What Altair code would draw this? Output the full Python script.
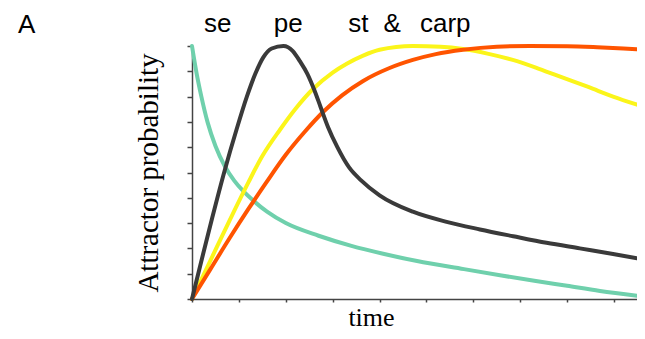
import altair as alt
import pandas as pd

# se (teal)
se_t = [0, 0.10, 0.20, 0.33, 0.50, 0.70, 0.90, 1.10, 1.30, 1.60, 2.00, 2.70, 3.40, 4.10, 4.80, 5.80, 6.60, 7.30, 8.00, 8.70, 9.49]
se_p = [1.0, 0.89, 0.80, 0.70, 0.605, 0.525, 0.468, 0.425, 0.39, 0.345, 0.30, 0.25, 0.21, 0.178, 0.15, 0.118, 0.093, 0.072, 0.052, 0.032, 0.013]

# pe (black)
pe_t = [0, 0.20, 0.43, 0.70, 0.95, 1.17, 1.35, 1.52, 1.70, 1.95, 2.15, 2.30, 2.46, 2.60, 2.74, 2.90, 3.10, 3.35, 3.60, 4.00, 4.71, 5.43, 6.14, 6.85, 7.56, 8.27, 8.98, 9.49]
pe_p = [0, 0.15, 0.32, 0.51, 0.67, 0.80, 0.89, 0.955, 0.99, 1.0, 0.98, 0.94, 0.89, 0.83, 0.76, 0.68, 0.60, 0.52, 0.47, 0.41, 0.345, 0.305, 0.275, 0.248, 0.222, 0.20, 0.178, 0.161]

# st (yellow)
st_t = [0, 0.40, 0.80, 1.20, 1.50, 1.88, 2.20, 2.58, 3.00, 3.30, 3.65, 4.00, 4.71, 5.30, 5.78, 6.30, 6.84, 7.40, 7.91, 8.45, 8.98, 9.49]
st_p = [0, 0.155, 0.31, 0.46, 0.565, 0.67, 0.75, 0.83, 0.895, 0.93, 0.962, 0.985, 1.0, 0.997, 0.988, 0.97, 0.945, 0.91, 0.875, 0.838, 0.80, 0.768]

# carp (orange)
carp_t = [0, 0.40, 0.80, 1.20, 1.60, 2.00, 2.40, 2.80, 3.20, 3.65, 4.20, 4.71, 5.20, 5.78, 6.50, 7.20, 8.00, 8.64, 9.20, 9.49]
carp_p = [0, 0.12, 0.24, 0.355, 0.465, 0.57, 0.66, 0.74, 0.805, 0.862, 0.912, 0.945, 0.968, 0.985, 0.997, 1.0, 0.999, 0.995, 0.99, 0.987]

series_names = ["se", "st", "carp", "pe"]
series_colors = ["#6fd0ac", "#fbf51a", "#ff5400", "#3a3a3a"]

label_text = ["se", "pe", "st", "&", "carp"]
label_t = [0.55, 2.05, 3.55, 4.27, 5.40]

rows = []
for name, ts, ps in [("se", se_t, se_p), ("st", st_t, st_p), ("carp", carp_t, carp_p), ("pe", pe_t, pe_p)]:
    for t, p in zip(ts, ps):
        rows.append({"series": name, "time": t, "p": p})
df = pd.DataFrame(rows)
labels = pd.DataFrame({"text": label_text, "time": label_t})

xscale = alt.Scale(domain=[0, 9.49], nice=False, zero=False)
yscale = alt.Scale(domain=[0, 1], nice=False)

x_axis = alt.Axis(values=list(range(0, 10)), labels=False, grid=False, tickSize=3,
                  tickColor="#444", tickWidth=1.5, domainColor="#444", domainWidth=1.5,
                  title="time", titleFont="Liberation Serif", titleFontSize=26,
                  titleFontWeight="normal", titleColor="#000", titleX=179, titleY=26,
                  titleBaseline="alphabetic", titleAlign="center", orient="bottom")

lines = alt.Chart(df).mark_line(strokeWidth=4, interpolate="monotone", strokeCap="round").encode(
    x=alt.X("time:Q", scale=xscale, axis=x_axis),
    y=alt.Y("p:Q", scale=yscale,
            axis=alt.Axis(values=[i / 10 for i in range(11)], labels=False, grid=False, tickSize=5,
                          tickColor="#444", tickWidth=1.5, domainColor="#444", domainWidth=1.5,
                          title="Attractor probability", titleFont="Liberation Serif", titleFontSize=29,
                          titleFontWeight="normal", titleColor="#000", titleX=-35, titleY=126.5,
                          titleAngle=270, titleBaseline="alphabetic", titleAlign="center")),
    color=alt.Color("series:N", scale=alt.Scale(domain=series_names, range=series_colors), legend=None,
                    sort=series_names),
    order=alt.Order("time:Q"),
)

top_labels = alt.Chart(labels).mark_text(font="Liberation Sans", fontSize=26, baseline="alphabetic",
                                         align="center", color="#000").encode(
    x=alt.X("time:Q", scale=xscale, axis=x_axis),
    y=alt.value(-14),
    text="text:N",
)

panel = alt.Chart(pd.DataFrame({"text": ["A"]})).mark_text(font="Liberation Sans", fontSize=26,
                                                           baseline="alphabetic", align="left",
                                                           color="#000").encode(
    x=alt.value(-174),
    y=alt.value(-13),
    text="text:N",
)

chart = alt.layer(lines, top_labels, panel).properties(
    width=445, height=253,
    padding={"left": 184, "top": 38, "right": 0, "bottom": 32},
    autosize=alt.AutoSizeParams(type="none"),
    background="white",
).configure_view(stroke="transparent", strokeWidth=0).configure_axis(grid=False)

chart.save("out.html", embed_options={"renderer": "svg", "actions": False})
